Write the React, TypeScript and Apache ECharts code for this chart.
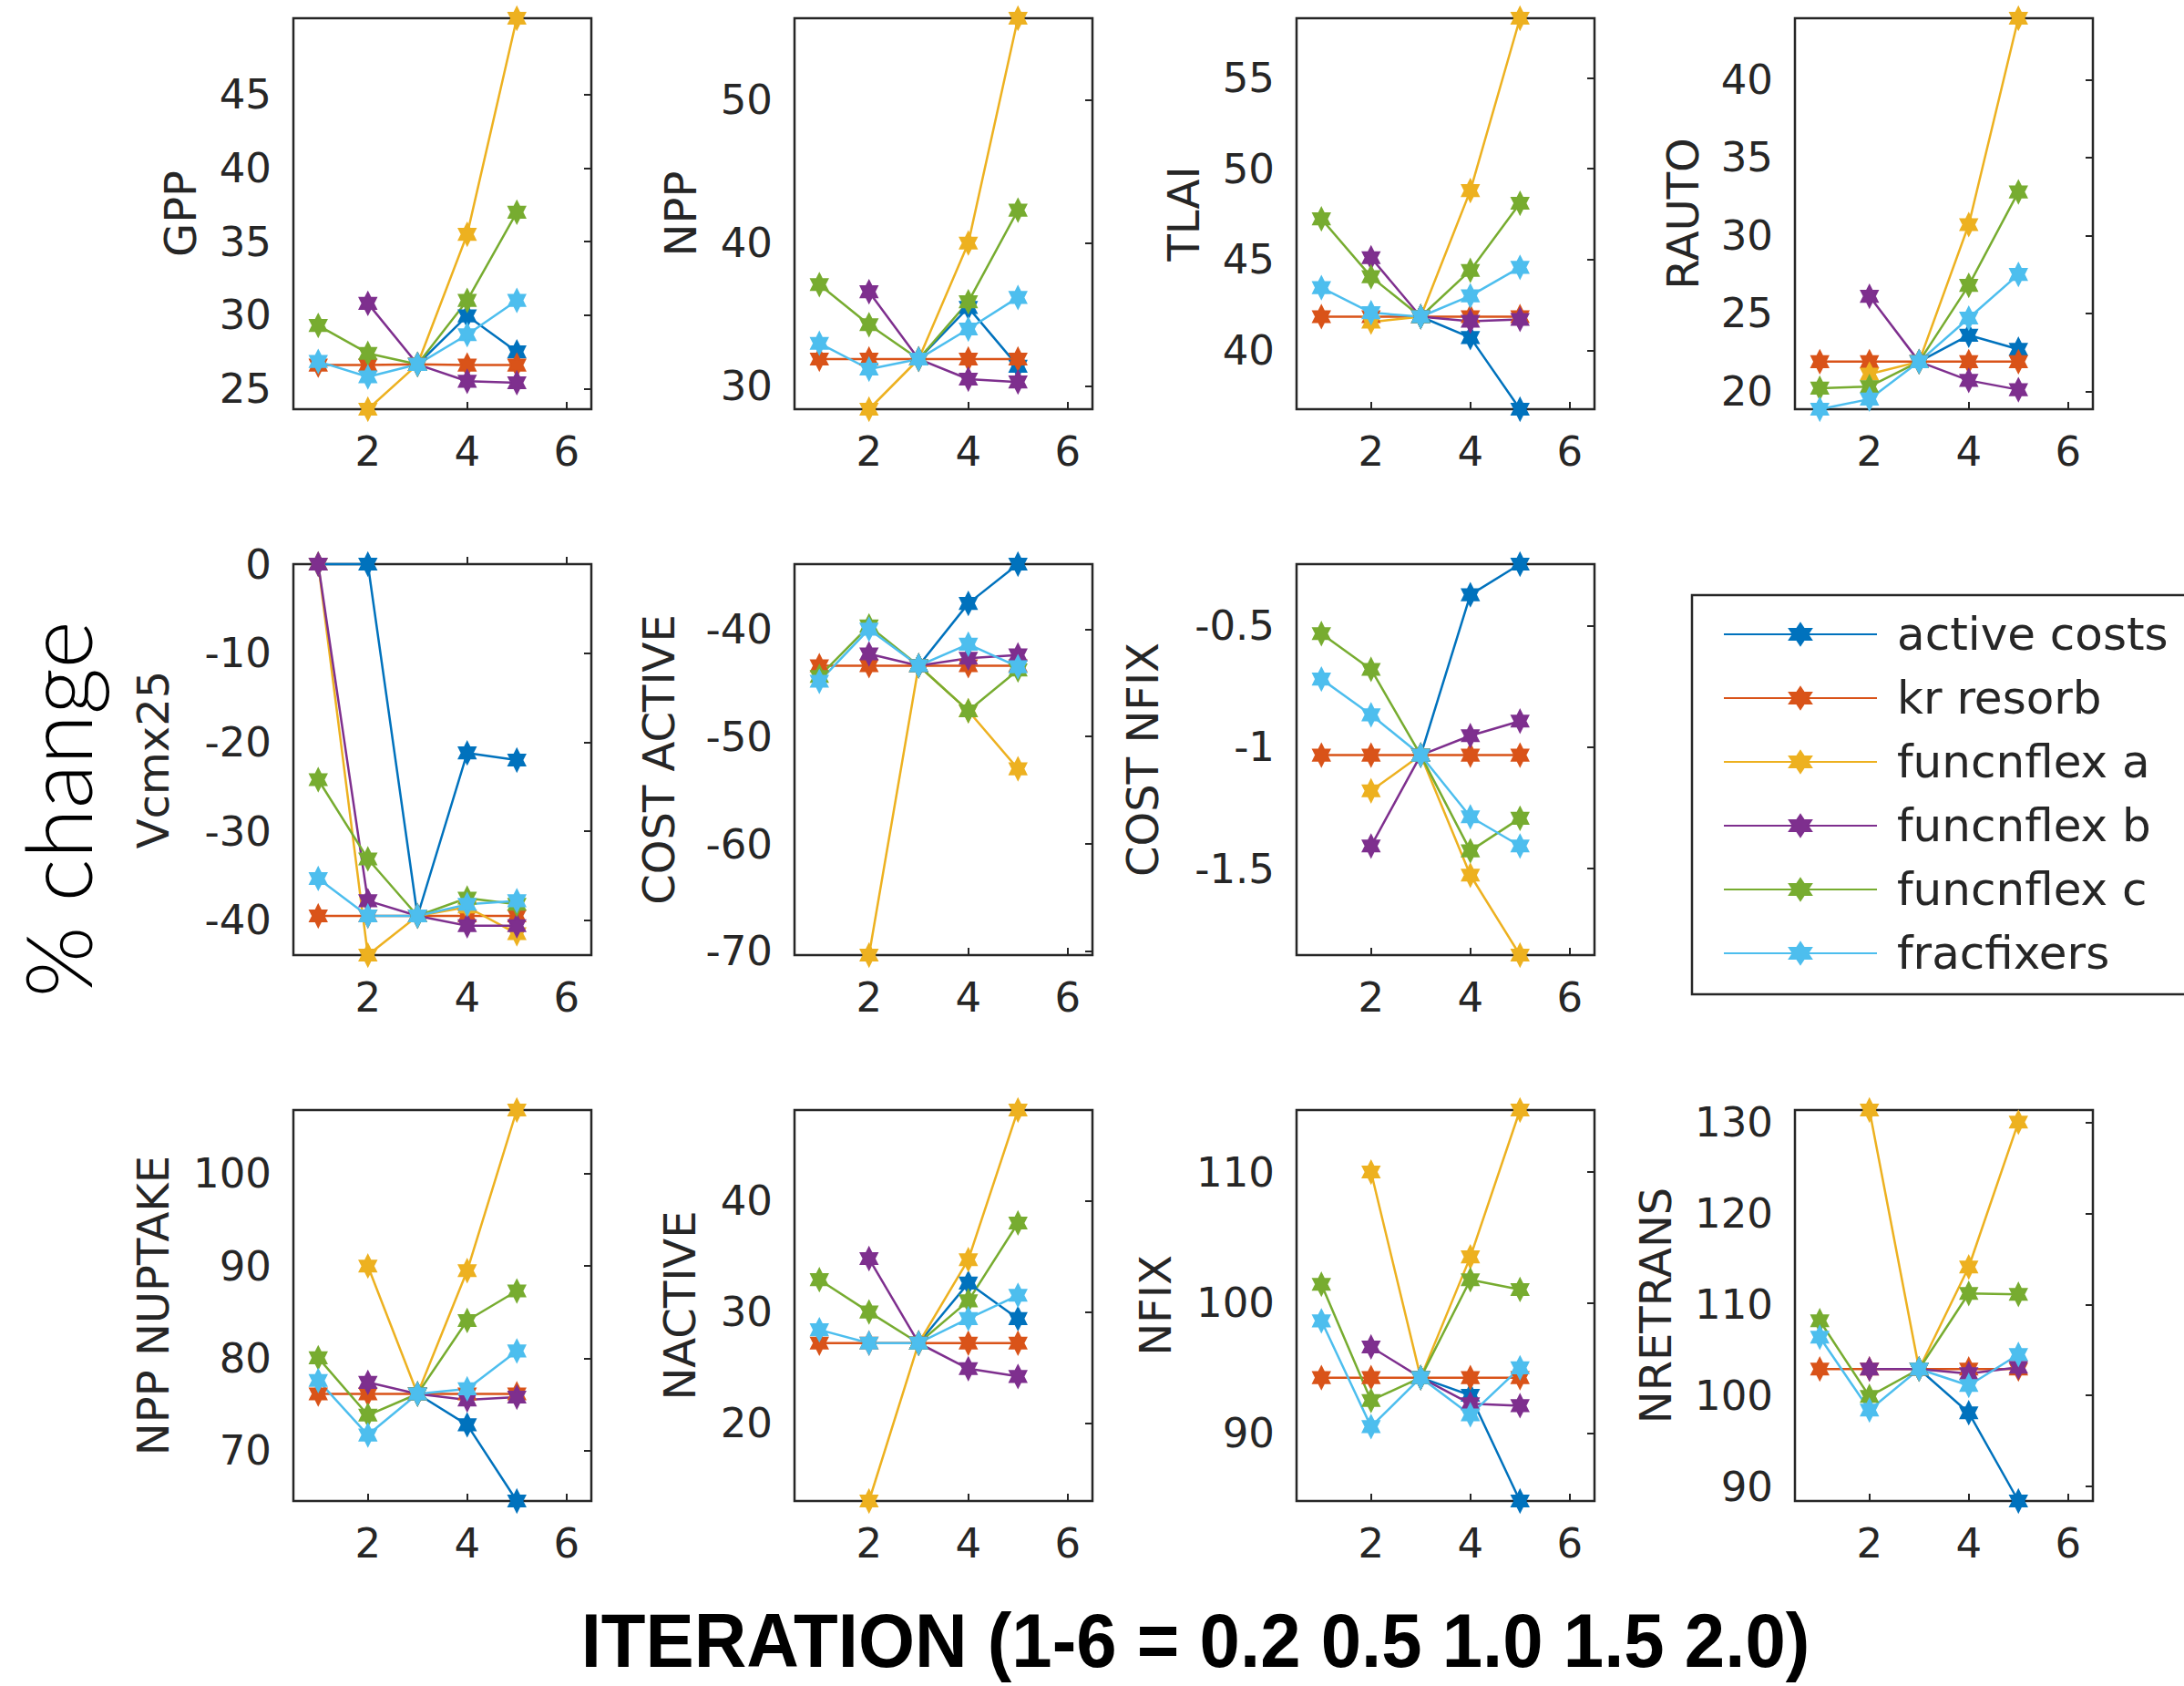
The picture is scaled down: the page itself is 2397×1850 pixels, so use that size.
import React, { useEffect, useRef } from 'react';
import * as echarts from 'echarts';

// ---------- data ----------
const SERIES_NAMES = ['active costs', 'kr resorb', 'funcnflex a', 'funcnflex b', 'funcnflex c', 'fracfixers'];
const SERIES_COLORS = ['#0072BD', '#D95319', '#EDB120', '#7E2F8E', '#77AC30', '#4DBEEE'];
const ITERATIONS = [1, 2, 3, 4, 5];
const X_TICKS = [2, 4, 6];
const X_MIN = 0.5;
const X_MAX = 6.5;

type V = number | null;
// rows follow SERIES_NAMES, columns follow ITERATIONS
const GPP: V[][] = [
  [null, null, 26.65, 29.95, 27.5],
  [26.6, 26.6, 26.65, 26.6, 26.6],
  [null, 23.6, 26.65, 35.5, 50.2],
  [null, 30.8, 26.65, 25.5, 25.4],
  [29.3, 27.4, 26.65, 31.0, 37.0],
  [26.85, 25.8, 26.65, 28.67, 31.0],
];
const GPP_TICKS = [25, 30, 35, 40, 45];

const NPP: V[][] = [
  [null, null, 31.9, 35.5, 31.4],
  [31.9, 31.9, 31.9, 31.9, 31.9],
  [null, 28.4, 31.9, 40.0, 55.7],
  [null, 36.6, 31.9, 30.5, 30.3],
  [37.1, 34.3, 31.9, 35.9, 42.3],
  [33.0, 31.2, 31.9, 34.0, 36.2],
];
const NPP_TICKS = [30, 40, 50];

const TLAI: V[][] = [
  [null, null, 41.85, 40.7, 36.75],
  [41.85, 41.85, 41.85, 41.85, 41.85],
  [null, 41.55, 41.85, 48.8, 58.3],
  [null, 45.1, 41.85, 41.6, 41.7],
  [47.24, 44.05, 41.85, 44.4, 48.1],
  [43.45, 42.07, 41.85, 43.0, 44.57],
];
const TLAI_TICKS = [40, 45, 50, 55];

const RAUTO: V[][] = [
  [null, null, 21.9, 23.6, 22.7],
  [21.9, 21.9, 21.9, 21.9, 21.9],
  [null, 21.1, 21.9, 30.7, 43.95],
  [null, 26.1, 21.9, 20.7, 20.1],
  [20.2, 20.3, 21.9, 26.8, 32.8],
  [18.85, 19.5, 21.9, 24.7, 27.5],
];
const RAUTO_TICKS = [20, 25, 30, 35, 40];

const VCMX25: V[][] = [
  [0, 0, -39.5, -21.2, -22.0],
  [-39.5, -39.5, -39.5, -39.5, -39.5],
  [0, -43.9, -39.5, -38.5, -41.5],
  [0, -37.8, -39.5, -40.6, -40.6],
  [-24.2, -33.1, -39.5, -37.5, -38.2],
  [-35.3, -39.5, -39.5, -38.2, -37.8],
];
const VCMX25_TICKS = [-40, -30, -20, -10, 0];

const COST_ACTIVE: V[][] = [
  [null, null, -43.4, -37.6, -33.94],
  [-43.4, -43.4, -43.4, -43.4, -43.4],
  [null, -70.35, -43.4, -47.6, -53.0],
  [null, -42.3, -43.4, -42.7, -42.4],
  [-44.4, -39.7, -43.4, -47.6, -43.8],
  [-44.85, -40.0, -43.4, -41.4, -43.5],
];
const COST_ACTIVE_TICKS = [-70, -60, -50, -40];

const COST_NFIX: V[][] = [
  [null, null, -1.033, -0.373, -0.247],
  [-1.033, -1.033, -1.033, -1.033, -1.033],
  [null, -1.18, -1.033, -1.527, -1.856],
  [null, -1.407, -1.033, -0.953, -0.893],
  [-0.533, -0.68, -1.033, -1.427, -1.293],
  [-0.72, -0.867, -1.033, -1.287, -1.407],
];
const COST_NFIX_TICKS = [-1.5, -1, -0.5];

const NPP_NUPTAKE: V[][] = [
  [null, null, 76.15, 72.8, 64.55],
  [76.15, 76.15, 76.15, 76.15, 76.15],
  [null, 90.0, 76.15, 89.5, 106.9],
  [null, 77.4, 76.15, 75.5, 75.8],
  [80.06, 73.85, 76.15, 84.1, 87.3],
  [77.6, 71.7, 76.15, 76.7, 80.8],
];
const NPP_NUPTAKE_TICKS = [70, 80, 90, 100];

const NACTIVE: V[][] = [
  [null, null, 27.2, 32.6, 29.4],
  [27.2, 27.2, 27.2, 27.2, 27.2],
  [null, 13.0, 27.2, 34.7, 48.16],
  [null, 34.8, 27.2, 24.9, 24.2],
  [32.9, 30.0, 27.2, 31.0, 38.0],
  [28.4, 27.2, 27.2, 29.4, 31.5],
];
const NACTIVE_TICKS = [20, 30, 40];

const NFIX: V[][] = [
  [null, null, 94.25, 92.9, 84.8],
  [94.25, 94.25, 94.25, 94.25, 94.25],
  [null, 110.0, 94.25, 103.5, 114.75],
  [null, 96.6, 94.25, 92.25, 92.1],
  [101.4, 92.5, 94.25, 101.75, 101.0],
  [98.6, 90.5, 94.25, 91.4, 95.0],
];
const NFIX_TICKS = [90, 100, 110];

const NRETRANS: V[][] = [
  [null, null, 102.9, 98.1, 88.42],
  [102.9, 102.9, 102.9, 102.9, 102.9],
  [null, 131.33, 102.9, 114.1, 130.0],
  [null, 102.9, 102.9, 102.4, 103.1],
  [108.2, 99.9, 102.9, 111.2, 111.1],
  [106.4, 98.4, 102.9, 101.1, 104.5],
];
const NRETRANS_TICKS = [90, 100, 110, 120, 130];

const Y_LABEL = '% change';
const X_LABEL = 'ITERATION (1-6 = 0.2 0.5 1.0 1.5 2.0)';

// ---------- layout ----------
const COL_LEFT = [322, 872, 1423, 1970];
const ROW_TOP = [20, 619, 1218];
const PANEL_W = 327;
const PANEL_H = 429;
const AXIS_COLOR = '#262626';
const FONT = "'DejaVu Sans', 'Liberation Sans', sans-serif";
const HEXAGRAM =
  'path://M0,-100L28.87,-50L86.6,-50L57.74,0L86.6,50L28.87,50L0,100L-28.87,50L-86.6,50L-57.74,0L-86.6,-50L-28.87,-50Z';

const PANELS = [
  { label: 'GPP', values: GPP, ticks: GPP_TICKS, row: 0, col: 0, gap: 100 },
  { label: 'NPP', values: NPP, ticks: NPP_TICKS, row: 0, col: 1, gap: 101 },
  { label: 'TLAI', values: TLAI, ticks: TLAI_TICKS, row: 0, col: 2, gap: 100 },
  { label: 'RAUTO', values: RAUTO, ticks: RAUTO_TICKS, row: 0, col: 3, gap: 99 },
  { label: 'Vcmx25', values: VCMX25, ticks: VCMX25_TICKS, row: 1, col: 0, gap: 130 },
  { label: 'COST ACTIVE', values: COST_ACTIVE, ticks: COST_ACTIVE_TICKS, row: 1, col: 1, gap: 125 },
  { label: 'COST NFIX', values: COST_NFIX, ticks: COST_NFIX_TICKS, row: 1, col: 2, gap: 145 },
  { label: 'NPP NUPTAKE', values: NPP_NUPTAKE, ticks: NPP_NUPTAKE_TICKS, row: 2, col: 0, gap: 130 },
  { label: 'NACTIVE', values: NACTIVE, ticks: NACTIVE_TICKS, row: 2, col: 1, gap: 102 },
  { label: 'NFIX', values: NFIX, ticks: NFIX_TICKS, row: 2, col: 2, gap: 131 },
  { label: 'NRETRANS', values: NRETRANS, ticks: NRETRANS_TICKS, row: 2, col: 3, gap: 129 },
];

function fmt(v: number) {
  return String(+Number(v).toFixed(6));
}

function buildOption() {
  const grid: any[] = [];
  const xAxis: any[] = [];
  const yAxis: any[] = [];
  const series: any[] = [];

  PANELS.forEach((p, gi) => {
    const all = p.values.flat().filter((v) => v !== null) as number[];
    const yMin = Math.min(...all);
    const yMax = Math.max(...all);

    grid.push({
      left: COL_LEFT[p.col],
      top: ROW_TOP[p.row],
      width: PANEL_W,
      height: PANEL_H,
      show: true,
      borderColor: AXIS_COLOR,
      borderWidth: 2.5,
      backgroundColor: 'transparent',
      containLabel: false,
    });

    xAxis.push({
      type: 'value',
      gridIndex: gi,
      min: X_MIN,
      max: X_MAX,
      position: 'bottom',
      axisLine: { show: false },
      splitLine: { show: false },
      axisTick: {
        show: true,
        inside: true,
        length: 8,
        customValues: X_TICKS,
        lineStyle: { color: AXIS_COLOR, width: 2 },
      },
      axisLabel: {
        customValues: X_TICKS,
        formatter: fmt,
        fontSize: 45,
        fontFamily: FONT,
        color: AXIS_COLOR,
        margin: 24,
      },
    });

    yAxis.push({
      type: 'value',
      gridIndex: gi,
      min: yMin,
      max: yMax,
      position: 'left',
      name: p.label,
      nameLocation: 'middle',
      nameGap: p.gap,
      nameTextStyle: { fontSize: 48, fontFamily: FONT, color: AXIS_COLOR },
      axisLine: { show: false },
      splitLine: { show: false },
      axisTick: { show: false, customValues: p.ticks },
      axisLabel: {
        customValues: p.ticks,
        formatter: fmt,
        fontSize: 45,
        fontFamily: FONT,
        color: AXIS_COLOR,
        margin: 24,
      },
    });
    yAxis.push({
      type: 'value',
      gridIndex: gi,
      min: yMin,
      max: yMax,
      position: 'right',
      axisLine: { show: false },
      splitLine: { show: false },
      axisTick: {
        show: true,
        inside: true,
        length: 8,
        customValues: p.ticks,
        lineStyle: { color: AXIS_COLOR, width: 2 },
      },
      axisLabel: { show: false, customValues: p.ticks },
    });

    SERIES_NAMES.forEach((name, si) => {
      series.push({
        type: 'line',
        name,
        xAxisIndex: gi,
        yAxisIndex: gi * 2,
        data: ITERATIONS.map((x, k) => [x, p.values[si][k] === null ? '-' : p.values[si][k]]),
        symbol: HEXAGRAM,
        symbolSize: [21, 24],
        symbolKeepAspect: true,
        showSymbol: true,
        clip: false,
        connectNulls: false,
        lineStyle: { color: SERIES_COLORS[si], width: 2.5 },
        itemStyle: { color: SERIES_COLORS[si], borderColor: SERIES_COLORS[si], borderWidth: 2 },
        emphasis: { disabled: true },
        silent: true,
      });
    });
  });

  return {
    animation: false,
    backgroundColor: '#ffffff',
    textStyle: { fontFamily: FONT },
    grid,
    xAxis,
    yAxis,
    series,
    legend: {
      data: SERIES_NAMES,
      orient: 'vertical',
      left: 1857,
      top: 653,
      padding: [18, 40, 20, 34],
      itemWidth: 168,
      itemHeight: 30,
      itemGap: 20,
      borderColor: AXIS_COLOR,
      borderWidth: 2.5,
      selectedMode: false,
      itemStyle: { borderWidth: 2 },
      textStyle: {
        fontSize: 50,
        fontFamily: FONT,
        color: AXIS_COLOR,
        lineHeight: 50,
        padding: [0, 0, 0, 17],
      },
    },
    graphic: [
      {
        type: 'text',
        x: 62,
        y: 888,
        rotation: Math.PI / 2,
        style: {
          text: Y_LABEL,
          fontSize: 100,
          fontWeight: 300,
          fontFamily: "'Lato', 'Liberation Sans', sans-serif",
          fill: '#000',
          textAlign: 'center',
          textVerticalAlign: 'middle',
        },
      },
      {
        type: 'text',
        x: 1312,
        y: 1800,
        scaleX: 0.95,
        style: {
          text: X_LABEL,
          fontSize: 84,
          fontWeight: 'bold',
          fontFamily: "'Liberation Sans', sans-serif",
          fill: '#000',
          textAlign: 'center',
          textVerticalAlign: 'middle',
        },
      },
    ],
  };
}

export default function App() {
  const ref = useRef<HTMLDivElement>(null);
  useEffect(() => {
    if (!ref.current) return;
    const chart = echarts.init(ref.current, null, { renderer: 'svg' });
    chart.setOption(buildOption() as any);
    return () => chart.dispose();
  }, []);
  return (
    <div
      ref={ref}
      style={{ position: 'absolute', left: 0, top: 0, width: 2397, height: 1850, background: '#fff' }}
    />
  );
}
